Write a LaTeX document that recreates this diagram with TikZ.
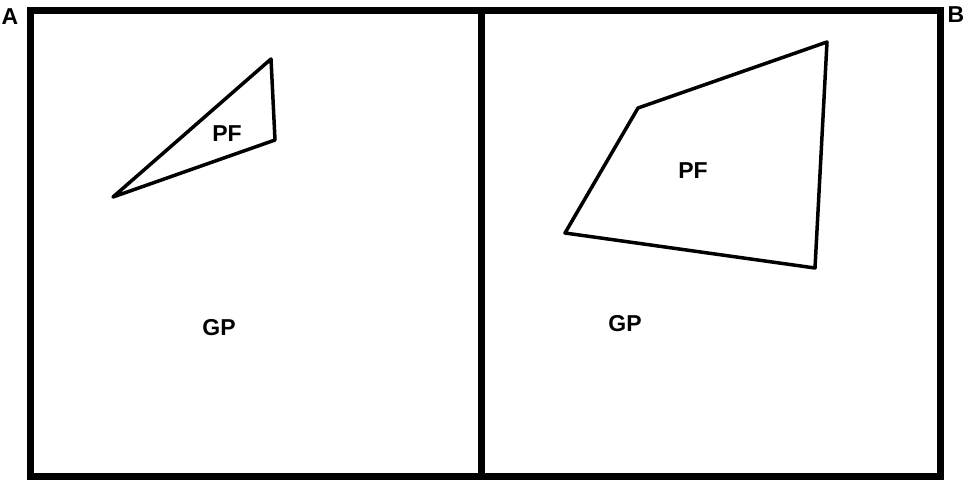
\documentclass[tikz,border=0pt]{standalone}
\usepackage{fontspec}
\setmainfont{Liberation Sans}
\usetikzlibrary{positioning}

\begin{document}
\begin{tikzpicture}[x=1pt,y=-1pt,font=\bfseries\fontsize{23}{23}\selectfont]
\tikzstyle{frameline}=[line width=7pt,line cap=rect]
\tikzstyle{outline}=[line width=3.5pt,line join=round,line cap=round]
\tikzstyle{lbl}=[inner sep=0pt]
\useasboundingbox (0,0) rectangle (968,479);
% panels
\draw[frameline] (30,10) rectangle (940,476);
\draw[frameline] (481,10) -- (481,476);
\node[lbl] (labA) at (10,17) {A};
\node[lbl] (labB) at (956,15) {B};
% panel A
\draw[outline] (113,197) -- (271,59) -- (275,140) -- cycle;
\node[lbl] (pfA) at (227,134) {PF};
\node[lbl] (gpA) at (219,328) {GP};
% panel B
\draw[outline] (565,233) -- (638,108) -- (827,42) -- (815,268) -- cycle;
\node[lbl] (pfB) at (693,171) {PF};
\node[lbl] (gpB) at (625,324) {GP};
\end{tikzpicture}
\end{document}
